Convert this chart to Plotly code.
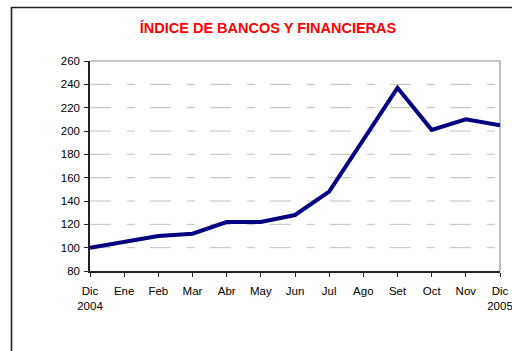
import plotly.graph_objects as go

# Monthly index values, Dec 2004 = 100
months = ["Dic<br>2004", "Ene", "Feb", "Mar", "Abr", "May", "Jun",
          "Jul", "Ago", "Set", "Oct", "Nov", "Dic<br>2005"]
index_values = [100, 105, 110, 112, 122, 122, 128, 148, 193, 237, 201, 210, 205]
y_ticks = [80, 100, 120, 140, 160, 180, 200, 220, 240, 260]

W, H = 512, 351
L, R, T, B = 90, 12, 61, 80
pw, ph = W - L - R, H - T - B


def px_to_paper_x(px):
    return (px - L) / pw


def px_to_paper_y(py):
    return (H - B - py) / ph


x_pos = list(range(len(months)))

fig = go.Figure()
fig.add_trace(go.Scatter(
    x=x_pos, y=index_values, mode="lines",
    line=dict(color="#000080", width=4),
    hoverinfo="skip", showlegend=False,
))

# dashed horizontal guides
for v in y_ticks[1:-1]:
    fig.add_shape(type="line", xref="paper", yref="y", x0=0, x1=1, y0=v, y1=v,
                  line=dict(color="#c0c0c0", width=1, dash="21px,16px,8px,15px"),
                  layer="below")

# plot-area frame (top and right edges)
fig.add_shape(type="path", xref="paper", yref="paper",
              path="M 0,1 L 1,1 L 1,0",
              line=dict(color="#909090", width=1.2), layer="below")

# outer chart border
fig.add_shape(type="path", xref="paper", yref="paper",
              path=f"M {px_to_paper_x(11.5)},{px_to_paper_y(360)} "
                   f"L {px_to_paper_x(11.5)},{px_to_paper_y(7.5)} "
                   f"L {px_to_paper_x(530)},{px_to_paper_y(7.5)}",
              line=dict(color="#222222", width=1.6), layer="above")

fig.update_layout(
    width=W, height=H,
    margin=dict(l=L, r=R, t=T, b=B),
    paper_bgcolor="white", plot_bgcolor="white",
    font=dict(family="Liberation Sans, Arial, sans-serif", size=11, color="#000000"),
    title=dict(text="<b>ÍNDICE DE BANCOS Y FINANCIERAS</b>",
               font=dict(family="Liberation Sans, Arial, sans-serif", size=14.5, color="#ff0000"),
               x=268 / W, xanchor="center",
               y=1 - 28 / H, yanchor="middle"),
    xaxis=dict(
        range=[0, len(months) - 1], tickmode="array", tickvals=x_pos, ticktext=months,
        showgrid=False, zeroline=False, automargin=False,
        showline=True, linecolor="#222222", linewidth=1.5,
        ticks="outside", ticklen=4, tickwidth=1, tickcolor="#222222",
        tickfont=dict(size=11.5), ticklabelstandoff=4, ticklabeloverflow="allow",
    ),
    yaxis=dict(
        range=[80, 260], tickmode="array", tickvals=y_ticks,
        showgrid=False, zeroline=False, automargin=False,
        showline=True, linecolor="#222222", linewidth=1.5,
        ticks="outside", ticklen=4, tickwidth=1, tickcolor="#222222",
        tickfont=dict(size=11.5), ticklabelstandoff=2,
    ),
)

fig.write_html("out.html")
